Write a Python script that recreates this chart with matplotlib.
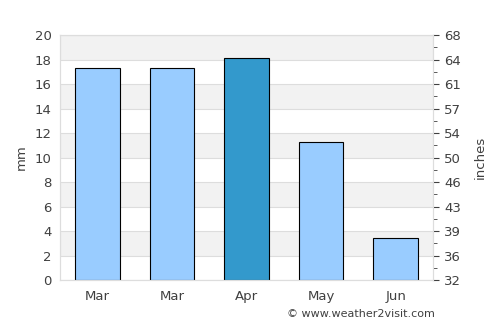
import numpy as np
import matplotlib.pyplot as plt
from matplotlib.ticker import FixedLocator

# données
mois = ['Mar', 'Mar', 'Apr', 'May', 'Jun']
pluie_mm = [17.3, 17.3, 18.1, 11.3, 3.4]
couleurs = ['#99ccff', '#99ccff', '#3399cc', '#99ccff', '#99ccff']
ticks_mm = np.arange(0, 21, 2)
labels_inches = ['32', '36', '39', '43', '46', '50', '54', '57', '61', '64', '68']

texte = '#404040'

fig = plt.figure(figsize=(5, 3.25), dpi=100)
ax = fig.add_axes([0.12, 0.138, 0.746, 0.754])

# bandes grises alternées
for y in range(2, 20, 4):
    ax.axhspan(y, y + 2, color='#f2f2f2', zorder=0, lw=0)
for y in ticks_mm:
    ax.axhline(y, color='#dddddd', lw=0.8, zorder=1)

x = np.arange(len(mois))
ax.bar(x, pluie_mm, width=0.6, color=couleurs, edgecolor='black', linewidth=0.8, zorder=3)

ax.set_xlim(-0.5, 4.5)
ax.set_ylim(0, 20)
ax.set_xticks(x)
ax.set_xticklabels(mois)
ax.set_yticks(ticks_mm)
ax.tick_params(axis='both', length=0, labelsize=9.5, colors=texte, pad=7)
ax.tick_params(axis='y', pad=6)
ax.set_ylabel('mm', fontsize=9.5, color=texte, labelpad=5)
for s in ax.spines.values():
    s.set_color('#dddddd')

ax2 = ax.twinx()
ax2.set_ylim(0, 20)
ax2.set_yticks(ticks_mm)
ax2.set_yticklabels(labels_inches)
ax2.yaxis.set_minor_locator(FixedLocator(np.arange(1, 20, 2)))
ax2.tick_params(axis='y', which='major', length=4, labelsize=9.5, colors=texte, pad=4)
ax2.tick_params(axis='y', which='minor', length=3, color=texte)
ax2.set_ylabel('inches', fontsize=9.5, color=texte, labelpad=9)
for s in ax2.spines.values():
    s.set_color('#dddddd')

fig.text(0.87, 0.018, '© www.weather2visit.com', ha='right', va='bottom', fontsize=8, color=texte)

plt.savefig('out.png', dpi=100)
